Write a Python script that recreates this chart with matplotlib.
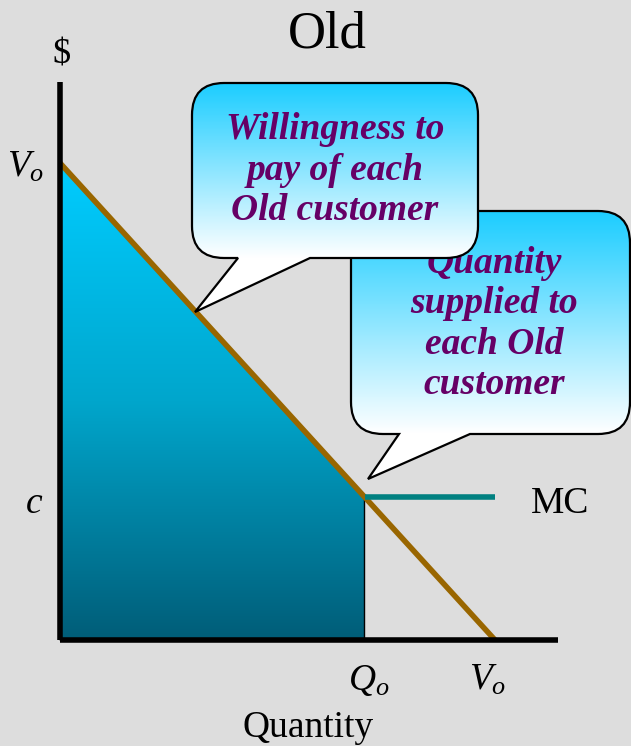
import numpy as np
import matplotlib
matplotlib.use("Agg")
import matplotlib.pyplot as plt
from matplotlib.path import Path
from matplotlib.patches import PathPatch, Polygon
from matplotlib.colors import LinearSegmentedColormap

plt.rcParams['font.family'] = ['Liberation Serif', 'DejaVu Serif']
plt.rcParams['mathtext.fontset'] = 'custom'
plt.rcParams['mathtext.it'] = 'Liberation Serif:italic'
plt.rcParams['mathtext.rm'] = 'Liberation Serif'

# demand and marginal cost for the Old customer
demand_q = [0.0, 10.0]
demand_p = [10.0, 0.0]
mc_q = [7.0, 10.0]
mc_p = [3.0, 3.0]
Q_o = 7.0
c = 3.0
V_o = 10.0

title = "Old"
bubble1_text = "Willingness to\npay of each\nOld customer"
bubble2_text = "Quantity\nsupplied to\neach Old\ncustomer"

# layout (pixels)
W, H = 631, 746
ox, oy = 60, 640          # origin of the diagram
sx, sy = 43.5, 47.7       # pixels per unit
x_axis_end, y_axis_end = 11.45, 11.7

bg = '#dddddd'
purple = '#660066'

fig = plt.figure(figsize=(W / 100, H / 100), dpi=100, facecolor=bg)
ax = fig.add_axes([0, 0, 1, 1])
ax.set_xlim(-ox / sx, (W - ox) / sx)
ax.set_ylim(-(H - oy) / sy, oy / sy)
ax.axis('off')

# shaded consumer value up to Q_o, gradient from cyan to dark teal
p_at_q = np.interp(Q_o, demand_q, demand_p)
area = Polygon([(0, 0), (0, demand_p[0]), (Q_o, p_at_q), (Q_o, 0)],
               closed=True, facecolor='none', edgecolor='black', lw=1.0, zorder=2)
ax.add_patch(area)
area_cmap = LinearSegmentedColormap.from_list(
    'area', [(0, '#00ccff'), (0.5, '#00a6cc'), (1, '#005d78')])
grad = np.linspace(0, 1, 256).reshape(-1, 1)
img = ax.imshow(grad, cmap=area_cmap, extent=(0, Q_o, 0, V_o), origin='upper',
                aspect='auto', zorder=1)
img.set_clip_path(area)

ax.plot(demand_q, demand_p, color='#996600', lw=4, solid_capstyle='butt', zorder=3)
ax.plot(mc_q, mc_p, color='#008080', lw=4, solid_capstyle='butt', zorder=3)

# axes
ax.plot([0, x_axis_end], [0, 0], color='black', lw=4, solid_capstyle='butt', zorder=4)
ax.plot([0, 0], [0, y_axis_end], color='black', lw=4, solid_capstyle='butt', zorder=4)
ax.set_xlim(-ox / sx, (W - ox) / sx)
ax.set_ylim(-(H - oy) / sy, oy / sy)

fs = 27
ax.annotate('$V_o$', xy=(0, V_o), xytext=(-11, -10), textcoords='offset points',
            ha='right', va='baseline', fontsize=fs)
ax.annotate('$c$', xy=(0, c), xytext=(-12, -11.5), textcoords='offset points',
            ha='right', va='baseline', fontsize=fs)
ax.annotate('MC', xy=(mc_q[-1], c), xytext=(26, -11.5), textcoords='offset points',
            ha='left', va='baseline', fontsize=fs)
ax.annotate('$Q_o$', xy=(Q_o, 0), xytext=(3, -36), textcoords='offset points',
            ha='center', va='baseline', fontsize=fs)
ax.annotate('$V_o$', xy=(V_o, 0), xytext=(-5, -36), textcoords='offset points',
            ha='center', va='baseline', fontsize=fs)

# overlay in pixel coordinates for titles and speech bubbles
ov = fig.add_axes([0, 0, 1, 1])
ov.set_xlim(0, W)
ov.set_ylim(H, 0)
ov.axis('off')
ov.patch.set_alpha(0)

ov.text(327, 48, title, ha='center', va='baseline', fontsize=38)
ov.text(62, 64, '$', ha='center', va='baseline', fontsize=26)
ov.text(308, 737, 'Quantity', ha='center', va='baseline', fontsize=fs)


def bubble_path(x0, y0, x1, y1, r, tail):
    bl, br, tx, ty = tail
    verts = [(x0 + r, y0), (x1 - r, y0), (x1, y0), (x1, y0 + r),
             (x1, y1 - r), (x1, y1), (x1 - r, y1),
             (br, y1), (tx, ty), (bl, y1),
             (x0 + r, y1), (x0, y1), (x0, y1 - r),
             (x0, y0 + r), (x0, y0), (x0 + r, y0), (x0 + r, y0)]
    codes = [Path.MOVETO, Path.LINETO, Path.CURVE3, Path.CURVE3,
             Path.LINETO, Path.CURVE3, Path.CURVE3,
             Path.LINETO, Path.LINETO, Path.LINETO,
             Path.LINETO, Path.CURVE3, Path.CURVE3,
             Path.LINETO, Path.CURVE3, Path.CURVE3, Path.CLOSEPOLY]
    return Path(verts, codes)


bubble_cmap = LinearSegmentedColormap.from_list('bubble', ['#1ccdff', '#ffffff'])


def speech_bubble(box, tail, text, text_xy, z):
    x0, y0, x1, y1 = box
    patch = PathPatch(bubble_path(x0, y0, x1, y1, 32, tail), facecolor='none',
                      edgecolor='black', lw=1.6, zorder=z + 1)
    ov.add_patch(patch)
    ybot = max(y1, tail[3])
    rows = np.linspace(y0, ybot, 300)
    g = np.clip((rows - y0) / (y1 - y0), 0, 1).reshape(-1, 1)
    im = ov.imshow(g, cmap=bubble_cmap, vmin=0, vmax=1, extent=(x0, x1, ybot, y0),
                   origin='upper', aspect='auto', zorder=z)
    im.set_clip_path(patch)
    ov.text(text_xy[0], text_xy[1], text, ha='center', va='center', fontsize=27,
            fontweight='bold', fontstyle='italic', color=purple,
            linespacing=1.2, zorder=z + 2)


speech_bubble((351, 211, 630, 434), (399, 470, 368, 479), bubble2_text, (494, 324), 10)
speech_bubble((192, 83, 478, 258), (238, 310, 195, 312), bubble1_text, (335, 170), 20)

ov.set_xlim(0, W)
ov.set_ylim(H, 0)

fig.savefig('out.png', dpi=100, facecolor=bg)
